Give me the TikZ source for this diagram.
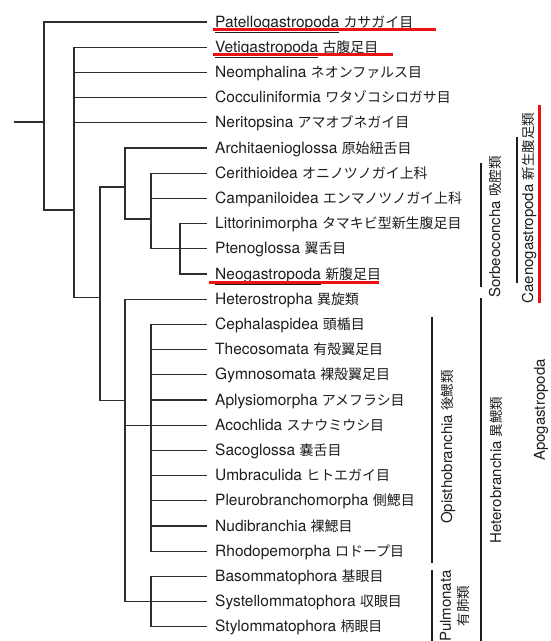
\documentclass[tikz,border=0pt]{standalone}
\usepackage{fontspec}
\setmainfont{TeX Gyre Heros}
\newfontfamily\jpfont{Noto Sans CJK JP}[Scale=0.9]
\newcommand\jt[1]{{\jpfont #1}}
\usetikzlibrary{calc}
\definecolor{txt}{HTML}{1E1E1E}
\definecolor{ln}{HTML}{2E2E2E}
\definecolor{rd}{HTML}{EE1111}
\tikzset{
  leaf/.style={anchor=west, inner xsep=8pt, inner ysep=0pt, text height=12pt, text depth=2pt,
    font=\fontsize{15.5}{18}\selectfont, text=txt},
  tree/.style={draw=ln, line width=1.1pt, line join=miter},
  bar/.style={draw=txt, line width=2.6pt},
  redbar/.style={draw=rd, line width=3pt},
  redline/.style={draw=rd, line width=3pt},
  vlab/.style={rotate=90, inner sep=0pt, font=\fontsize{15}{18}\selectfont, text=txt}
}
\begin{document}
\begin{tikzpicture}[x=1pt,y=-1pt]
\useasboundingbox[fill=white] (0,0) rectangle (550,641);
% leaves
\node[leaf] (l0)  at (207,22.0)  {\underline{Patellogastropoda} \jt{カサガイ目}};
\node[leaf] (l1)  at (207,47.2)  {\underline{Vetigastropoda} \jt{古腹足目}};
\node[leaf] (l2)  at (207,72.4)  {Neomphalina \jt{ネオンファルス目}};
\node[leaf] (l3)  at (207,97.6)  {Cocculiniformia \jt{ワタゾコシロガサ目}};
\node[leaf] (l4)  at (207,122.8) {Neritopsina \jt{アマオブネガイ目}};
\node[leaf] (l5)  at (207,148.0) {Architaenioglossa \jt{原始紐舌目}};
\node[leaf] (l6)  at (207,173.2) {Cerithioidea \jt{オニノツノガイ上科}};
\node[leaf] (l7)  at (207,198.4) {Campaniloidea \jt{エンマノツノガイ上科}};
\node[leaf] (l8)  at (207,223.6) {Littorinimorpha \jt{タマキビ型新生腹足目}};
\node[leaf] (l9)  at (207,248.8) {Ptenoglossa \jt{翼舌目}};
\node[leaf] (l10) at (207,274.0) {\underline{Neogastropoda} \jt{新腹足目}};
\node[leaf] (l11) at (207,299.2) {Heterostropha \jt{異旋類}};
\node[leaf] (l12) at (207,324.4) {Cephalaspidea \jt{頭楯目}};
\node[leaf] (l13) at (207,349.6) {Thecosomata \jt{有殻翼足目}};
\node[leaf] (l14) at (207,374.8) {Gymnosomata \jt{裸殻翼足目}};
\node[leaf] (l15) at (207,400.0) {Aplysiomorpha \jt{アメフラシ目}};
\node[leaf] (l16) at (207,425.2) {Acochlida \jt{スナウミウシ目}};
\node[leaf] (l17) at (207,450.4) {Sacoglossa \jt{嚢舌目}};
\node[leaf] (l18) at (207,475.6) {Umbraculida \jt{ヒトエガイ目}};
\node[leaf] (l19) at (207,500.8) {Pleurobranchomorpha \jt{側鰓目}};
\node[leaf] (l20) at (207,526.0) {Nudibranchia \jt{裸鰓目}};
\node[leaf] (l21) at (207,551.2) {Rhodopemorpha \jt{ロドープ目}};
\node[leaf] (l22) at (207,576.4) {Basommatophora \jt{基眼目}};
\node[leaf] (l23) at (207,601.6) {Systellommatophora \jt{収眼目}};
\node[leaf] (l24) at (207,626.8) {Stylommatophora \jt{柄眼目}};
% internal nodes
\coordinate (R) at (14,122);
\coordinate (A) at (44,122);
\coordinate (B) at (74,210);
\coordinate (C) at (100,297.5);
\coordinate (D) at (125,187);
\coordinate (F) at (151,219);
\coordinate (G) at (180,248.8);
\coordinate (E) at (125,400.5);
\coordinate (I) at (151,425.2);
\coordinate (H) at (151,601.6);
% tree
\draw[tree] (R) -- (A);
\draw[tree] (A) |- (l0.west);
\draw[tree] (A) |- (B);
\foreach \n in {l1,l2,l3,l4} \draw[tree] (B) |- (\n.west);
\draw[tree] (B) |- (C);
\draw[tree] (C) |- (D);
\draw[tree] (C) |- (E);
\draw[tree] (D) |- (l5.west);
\draw[tree] (D) |- (F);
\foreach \n in {l6,l7,l9} \draw[tree] (F) |- (\n.west);
\foreach \n in {l8,l10} \draw[tree] (G) |- (\n.west);
\foreach \n in {l11,l16,l23} \draw[tree] (E) |- (\n.west);
\foreach \n in {l12,l13,l14,l15,l17,l18,l19,l20,l21} \draw[tree] (I) |- (\n.west);
\foreach \n in {l22,l24} \draw[tree] (H) |- (\n.west);
% red underlines
\draw[redline] ($(l0.west)+(6,7.5)$) -- ++(223,0);
\draw[redline] ($(l1.west)+(6,7.5)$) -- ++(180,0);
\draw[redline] ($(l10.west)+(2,8.5)$) -- ++(170,0);
% bars
\draw[bar] (481,163) -- (481,287);
\draw[bar] (517,137) -- (517,283);
\draw[redbar] (539,105) -- (539,303);
\draw[bar] (481,298) -- (481,641);
\draw[bar] (432,317) -- (432,563);
\draw[bar] (432,570) -- (432,641);
% group labels
\node[vlab] (sorb) at (495,227) {Sorbeoconcha \jt{吸腔類}};
\node[vlab] (caeno) at (529,208) {Caenogastropoda \jt{新生腹足類}};
\node[vlab] (hetb) at (496,470) {Heterobranchia \jt{異鰓類}};
\node[vlab] (opis) at (448,447) {Opisthobranchia \jt{後鰓類}};
\node[vlab, align=center] (pulm) at (455,606) {Pulmonata\\\jt{有肺類}};
\node[vlab] (apo) at (541,410) {Apogastropoda};
\end{tikzpicture}
\end{document}
